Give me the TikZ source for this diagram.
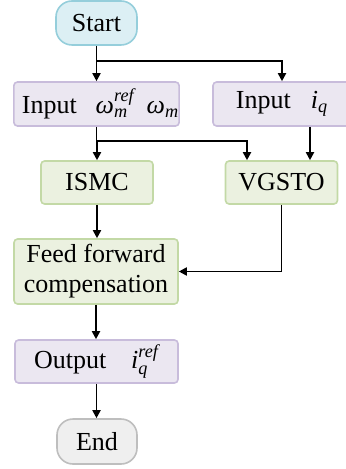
\documentclass[tikz,border=0pt]{standalone}
\usepackage{fontspec}
\setmainfont{Liberation Serif}
\usepackage{amsmath}
\usepackage{tikz}
\usetikzlibrary{arrows.meta,positioning,calc}
\definecolor{FlowCyan}{HTML}{DCEFF4}
\definecolor{FlowCyanLine}{HTML}{95CEDB}
\definecolor{FlowLilac}{HTML}{EBE7F1}
\definecolor{FlowLilacLine}{HTML}{C8BCDB}
\definecolor{FlowGreen}{HTML}{EBF1E0}
\definecolor{FlowGreenLine}{HTML}{C3D9A6}
\definecolor{FlowGray}{HTML}{EFEFEF}
\definecolor{FlowGrayLine}{HTML}{BEBEBE}
\newcommand\itx[1]{\text{\itshape #1}}

\begin{document}
\begin{tikzpicture}[
  x=0.5pt,y=-0.5pt,
  every node/.style={font=\fontsize{13pt}{15pt}\selectfont,inner sep=0pt},
  terminal/.style={draw=#1Line,fill=#1,line width=0.8pt,rounded corners=8pt,minimum width=40.5pt,minimum height=22pt},
  io/.style={draw=FlowLilacLine,fill=FlowLilac,line width=0.8pt,rounded corners=1.8pt,minimum height=22pt},
  proc/.style={draw=FlowGreenLine,fill=FlowGreen,line width=0.8pt,rounded corners=1.8pt,minimum height=21.5pt,align=center},
  arrow/.style={-{Triangle[length=4pt,width=4pt]},line width=0.9pt,draw=black},
  line/.style={line width=0.9pt,draw=black}
]
\useasboundingbox (0,0) rectangle (345,469);
\node[terminal=FlowCyan] (start) at (96.5,23) {Start};
\node[io,minimum width=81.5pt] (in1) at (96.5,104) {\hspace{4pt}Input\hspace{9.5pt}$\itx{ω}_{\itx{m}}^{\itx{ref}}$\hspace{6pt}$\itx{ω}_{\itx{m}}$};
\node[io,minimum width=69pt] (in2) at (282,104) {Input\hspace{10pt}$\itx{i}_{\itx{q}}$\hspace{2pt}};
\node[proc,minimum width=56pt] (ismc) at (97,182.5) {ISMC};
\node[proc,minimum width=56pt] (vgsto) at (281.5,182.5) {VGSTO};
\node[proc,minimum width=82pt,minimum height=32.5pt] (feed) at (96,271.5) {Feed forward\\compensation};
\node[io,minimum width=81.5pt,minimum height=21.5pt] (out) at (96.5,361.5) {Output\hspace{12.5pt}$\itx{i}_{\itx{q}}^{\itx{ref}}$\hspace{8.5pt}};
\node[terminal=FlowGray,minimum width=40pt,minimum height=22.5pt] (end) at (97,441.5) {End};
% start splits to both inputs
\coordinate (split1) at (96.5,61);
\draw[line] (start.south) -- (split1);
\draw[arrow] (split1) -- (in1.north);
\draw[arrow] (split1) -| (in2.north);
% speed input goes to both blocks
\coordinate (split2) at (96.5,141);
\draw[line] (in1.south) -- (split2);
\draw[arrow] (split2) -- (split2 -| ismc.north) -- (ismc.north);
\draw[arrow] (split2) -| ([xshift=-17.25pt]vgsto.north);
\draw[arrow] ([xshift=14pt]in2.south) -- ([xshift=14pt]in2.south |- vgsto.north);
% compensation
\draw[arrow] (ismc.south) -- (ismc.south |- feed.north);
\draw[arrow] (vgsto.south) |- (feed.east);
\draw[arrow] (feed.south) -- (feed.south |- out.north);
\draw[arrow] (out.south) -- (out.south |- end.north);
\end{tikzpicture}
\end{document}
